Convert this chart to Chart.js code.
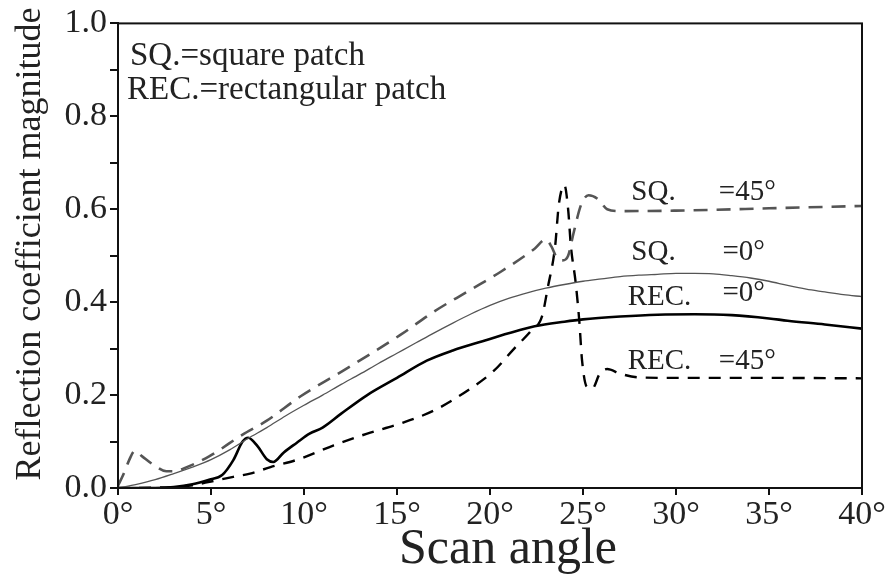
<!DOCTYPE html>
<html><head><meta charset="utf-8">
<script src="https://cdn.jsdelivr.net/npm/chart.js@4/dist/chart.umd.min.js"></script>
<style>html,body{margin:0;padding:0;background:#fff}</style>
</head><body>
<canvas id="c" width="890" height="586"></canvas>
<script>
// Scan angle (deg) and reflection coefficient magnitude for each curve
const sq0Angle = [0,1,2,3,4,5,6,7,8,9,10,11,12,13,14,15,16,17,18,19,20,21,22,23,24,25,26,27,28,29,30,31,32,33,34,35,36,37,38,39,40];
const sq0Value = [0,0.008,0.018,0.031,0.045,0.061,0.082,0.107,0.13,0.155,0.178,0.2,0.223,0.245,0.268,0.29,0.312,0.334,0.355,0.375,0.393,0.408,0.42,0.43,0.438,0.445,0.45,0.455,0.458,0.46,0.462,0.462,0.461,0.457,0.452,0.445,0.436,0.428,0.422,0.416,0.412];

const rec0Angle = [0,2,3,4,4.9,5.6,6.2,6.7,7,7.5,8,8.35,8.9,9.6,10.3,11,12,13.4,15,16.6,18,19.6,21,22.4,24,25,27,29,31,33,35,36,38,40];
const rec0Value = [0,0,0.002,0.008,0.018,0.028,0.06,0.1,0.108,0.09,0.062,0.056,0.076,0.097,0.117,0.13,0.16,0.2,0.237,0.274,0.296,0.316,0.333,0.348,0.358,0.363,0.369,0.373,0.374,0.372,0.365,0.36,0.352,0.343];

const sq45Angle = [0,0.3,0.6,0.9,1.3,1.9,2.6,3.0,3.7,4.9,6.7,8,9.8,12,15.2,17,18.8,20.6,22.4,23.0,23.3,23.6,23.9,24.2,24.5,24.9,25.3,25.8,26.3,27,30,35,40];
const sq45Value = [0.005,0.03,0.06,0.08,0.068,0.05,0.036,0.036,0.045,0.068,0.115,0.145,0.197,0.25,0.33,0.38,0.423,0.466,0.515,0.535,0.52,0.495,0.49,0.5,0.55,0.61,0.63,0.622,0.6,0.596,0.597,0.602,0.607];

const rec45Angle = [0,3,4,5,6.2,7.1,8.2,9.8,11.6,13.4,15.2,17,18.8,20.2,21.3,22.2,22.8,23.1,23.5,23.7,24.0,24.2,24.35,24.6,24.8,24.95,25.2,25.5,25.9,26.3,27,28,30,35,40];
const rec45Value = [0,0.002,0.006,0.014,0.024,0.031,0.045,0.063,0.092,0.117,0.139,0.167,0.21,0.252,0.3,0.338,0.37,0.43,0.52,0.61,0.652,0.6,0.52,0.444,0.36,0.274,0.218,0.214,0.246,0.256,0.246,0.238,0.237,0.237,0.236];

const xTicks = [0,5,10,15,20,25,30,35,40];
const noteLines = ['SQ.=square patch','REC.=rectangular patch'];
const curveLabels = [
  {name:'SQ.', eq:'=45°', a:27.6, eqA:32.3, v:0.637},
  {name:'SQ.', eq:'=0°', a:27.6, eqA:32.5, v:0.508},
  {name:'REC.', eq:'=0°', a:27.4, eqA:32.5, v:0.41, eqV:0.418},
  {name:'REC.', eq:'=45°', a:27.4, eqA:32.3, v:0.272}
];
const xTitle = 'Scan angle';
const yTitle = 'Reflection coefficient magnitude';

function pts(a, v){ return a.map((x,i)=>({x:x, y:v[i]})); }

const FONT = '"Liberation Serif", "Times New Roman", serif';

const framePlugin = {
  id:'frame',
  afterDatasetsDraw(chart){
    const {ctx, chartArea:ca, scales} = chart;
    ctx.save();
    ctx.strokeStyle = '#111';
    ctx.lineWidth = 2;
    ctx.strokeRect(ca.left, ca.top, ca.right-ca.left, ca.bottom-ca.top);
    ctx.fillStyle = '#222';
    ctx.textBaseline = 'middle';
    ctx.textAlign = 'left';
    ctx.font = '33px ' + FONT;
    ctx.fillText(noteLines[0], ca.left + 12, ca.top + 33);
    ctx.fillText(noteLines[1], ca.left + 9, ca.top + 67);
    ctx.font = '29px ' + FONT;
    curveLabels.forEach(l=>{
      ctx.fillText(l.name, scales.x.getPixelForValue(l.a), scales.y.getPixelForValue(l.v));
      ctx.fillText(l.eq, scales.x.getPixelForValue(l.eqA), scales.y.getPixelForValue(l.eqV!==undefined?l.eqV:l.v));
    });
    // x-axis title
    ctx.textAlign = 'center';
    ctx.font = '50px ' + FONT;
    ctx.fillText(xTitle, 508, 550);
    // y-axis title
    ctx.translate(31, 244);
    ctx.rotate(-Math.PI/2);
    ctx.font = '36px ' + FONT;
    ctx.fillText(yTitle, 0, 0);
    ctx.restore();
  }
};

new Chart(document.getElementById('c'), {
  type:'line',
  data:{ datasets:[
    {label:'SQ. =0°', data:pts(sq0Angle,sq0Value), borderColor:'#555', borderWidth:1.3, pointRadius:0, cubicInterpolationMode:'monotone'},
    {label:'REC. =0°', data:pts(rec0Angle,rec0Value), borderColor:'#000', borderWidth:2.6, pointRadius:0, cubicInterpolationMode:'monotone'},
    {label:'SQ. =45°', data:pts(sq45Angle,sq45Value), borderColor:'#555', borderWidth:2.6, borderDash:[14,9], pointRadius:0, cubicInterpolationMode:'monotone'},
    {label:'REC. =45°', data:pts(rec45Angle,rec45Value), borderColor:'#000', borderWidth:2.4, borderDash:[12,9], pointRadius:0, cubicInterpolationMode:'monotone'}
  ]},
  options:{
    responsive:false, animation:false,
    layout:{padding:{top:20, right:28, left:0, bottom:0}},
    plugins:{legend:{display:false}, tooltip:{enabled:false}},
    scales:{
      x:{type:'linear', min:0, max:40,
        afterBuildTicks(s){ s.ticks = xTicks.map(v=>({value:v})); },
        afterFit(s){ s.height = 98; },
        grid:{display:true, drawOnChartArea:false, drawTicks:true, tickLength:7, color:'#111', lineWidth:2},
        border:{display:true, color:'#111', width:2},
        ticks:{color:'#222', font:{family:FONT, size:34}, padding:0, maxRotation:0, callback:v=>v+'°'},
        title:{display:false}
      },
      y:{min:0, max:1,
        afterFit(s){ s.width = 118; },
        ticks:{stepSize:0.1, color:'#222', font:{family:FONT, size:34}, padding:3,
          callback:v=>(Math.round(v*10)%2===0 ? v.toFixed(1) : '')},
        grid:{display:true, drawOnChartArea:false, drawTicks:true, tickLength:8, color:'#111', lineWidth:2},
        border:{display:true, color:'#111', width:2},
        title:{display:false}
      }
    }
  },
  plugins:[framePlugin]
});
</script>
</body></html>
